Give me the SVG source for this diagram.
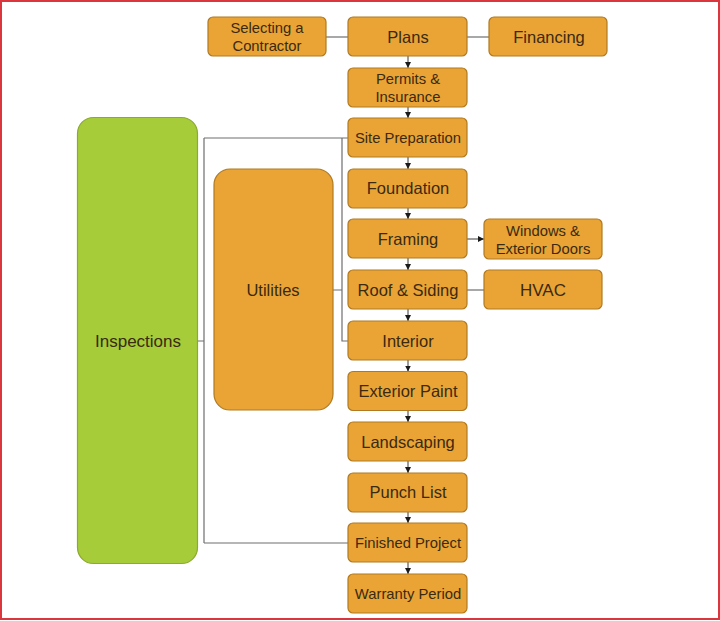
<svg xmlns="http://www.w3.org/2000/svg" width="720" height="621" viewBox="0 0 720 621">
<defs>
<marker id="ah" viewBox="0 0 6 6" refX="6" refY="3" markerWidth="6" markerHeight="6" markerUnits="userSpaceOnUse" orient="auto">
<path d="M0,0 L6,3 L0,6 z" fill="#1a1a1a"/>
</marker>
<style>
.box{fill:#e9a435;stroke:#b07a22;stroke-width:1.2}
.big{fill:#a6cc3a;stroke:#8aab2c;stroke-width:1.2}
.t{font-family:"Liberation Sans",Arial,sans-serif;font-size:16.5px;fill:#3b2a12;text-anchor:middle}
.s{font-size:14.8px}
.c{fill:none;stroke:#6e6e6e;stroke-width:1.2}
.a{fill:none;stroke:#3a3a3a;stroke-width:1;marker-end:url(#ah)}
</style>
</defs>
<rect x="0" y="0" width="720" height="621" fill="#ffffff"/>
<rect x="1" y="1" width="718" height="618" fill="none" stroke="#d9363e" stroke-width="2"/>
<g id="connectors">
<path class="c" d="M326,37 H348"/>
<path class="c" d="M467,37 H489"/>
<path class="c" d="M197,341 H204 M204,138 V543 M204,138 H348 M204,543 H348"/>
<path class="c" d="M333,290 H342 M342,138 V341 H348"/>
<path class="c" d="M467,290 H484"/>
<path class="a" d="M467,239 H484"/>
<path class="a" d="M408,56 V68"/>
<path class="a" d="M408,107 V118"/>
<path class="a" d="M408,157 V169"/>
<path class="a" d="M408,208 V219"/>
<path class="a" d="M408,258 V270"/>
<path class="a" d="M408,309 V321"/>
<path class="a" d="M408,360 V371.5"/>
<path class="a" d="M408,410.5 V422"/>
<path class="a" d="M408,461 V473"/>
<path class="a" d="M408,512 V523"/>
<path class="a" d="M408,562 V574"/>
</g>
<g id="inspections"><rect class="big" x="77.5" y="117.5" width="120" height="446" rx="16"/><text class="t" x="138" y="347" style="font-size:17px">Inspections</text></g>
<g id="utilities"><rect class="box" x="214" y="169" width="119" height="241" rx="16"/><text class="t" x="273" y="296">Utilities</text></g>
<g id="selecting"><rect class="box" x="208" y="17" width="118" height="39" rx="5"/><text class="t s" x="267" y="33">Selecting a</text><text class="t s" x="267" y="51">Contractor</text></g>
<g id="plans"><rect class="box" x="348" y="17" width="119" height="39" rx="5"/><text class="t" x="408" y="43">Plans</text></g>
<g id="financing"><rect class="box" x="489" y="17" width="118" height="39" rx="5"/><text class="t" x="549" y="43">Financing</text></g>
<g id="permits"><rect class="box" x="348" y="68" width="119" height="39" rx="5"/><text class="t s" x="408" y="84">Permits &amp;</text><text class="t s" x="408" y="102">Insurance</text></g>
<g id="site"><rect class="box" x="348" y="118" width="119" height="39" rx="5"/><text class="t s" x="408" y="143">Site Preparation</text></g>
<g id="foundation"><rect class="box" x="348" y="169" width="119" height="39" rx="5"/><text class="t" x="408" y="194">Foundation</text></g>
<g id="framing"><rect class="box" x="348" y="219" width="119" height="39" rx="5"/><text class="t" x="408" y="245">Framing</text></g>
<g id="windows"><rect class="box" x="484" y="219" width="118" height="40" rx="5"/><text class="t s" x="543" y="236">Windows &amp;</text><text class="t s" x="543" y="254">Exterior Doors</text></g>
<g id="roof"><rect class="box" x="348" y="270" width="119" height="39" rx="5"/><text class="t" x="408" y="296">Roof &amp; Siding</text></g>
<g id="hvac"><rect class="box" x="484" y="270" width="118" height="39" rx="5"/><text class="t" x="543" y="296" style="font-size:17px">HVAC</text></g>
<g id="interior"><rect class="box" x="348" y="321" width="119" height="39" rx="5"/><text class="t" x="408" y="347">Interior</text></g>
<g id="paint"><rect class="box" x="348" y="371.5" width="119" height="39" rx="5"/><text class="t" x="408" y="397">Exterior Paint</text></g>
<g id="landscaping"><rect class="box" x="348" y="422" width="119" height="39" rx="5"/><text class="t" x="408" y="448">Landscaping</text></g>
<g id="punch"><rect class="box" x="348" y="473" width="119" height="39" rx="5"/><text class="t" x="408" y="498">Punch List</text></g>
<g id="finished"><rect class="box" x="348" y="523" width="119" height="39" rx="5"/><text class="t s" x="408" y="548">Finished Project</text></g>
<g id="warranty"><rect class="box" x="348" y="574" width="119" height="39" rx="5"/><text class="t s" x="408" y="599">Warranty Period</text></g>
</svg>
